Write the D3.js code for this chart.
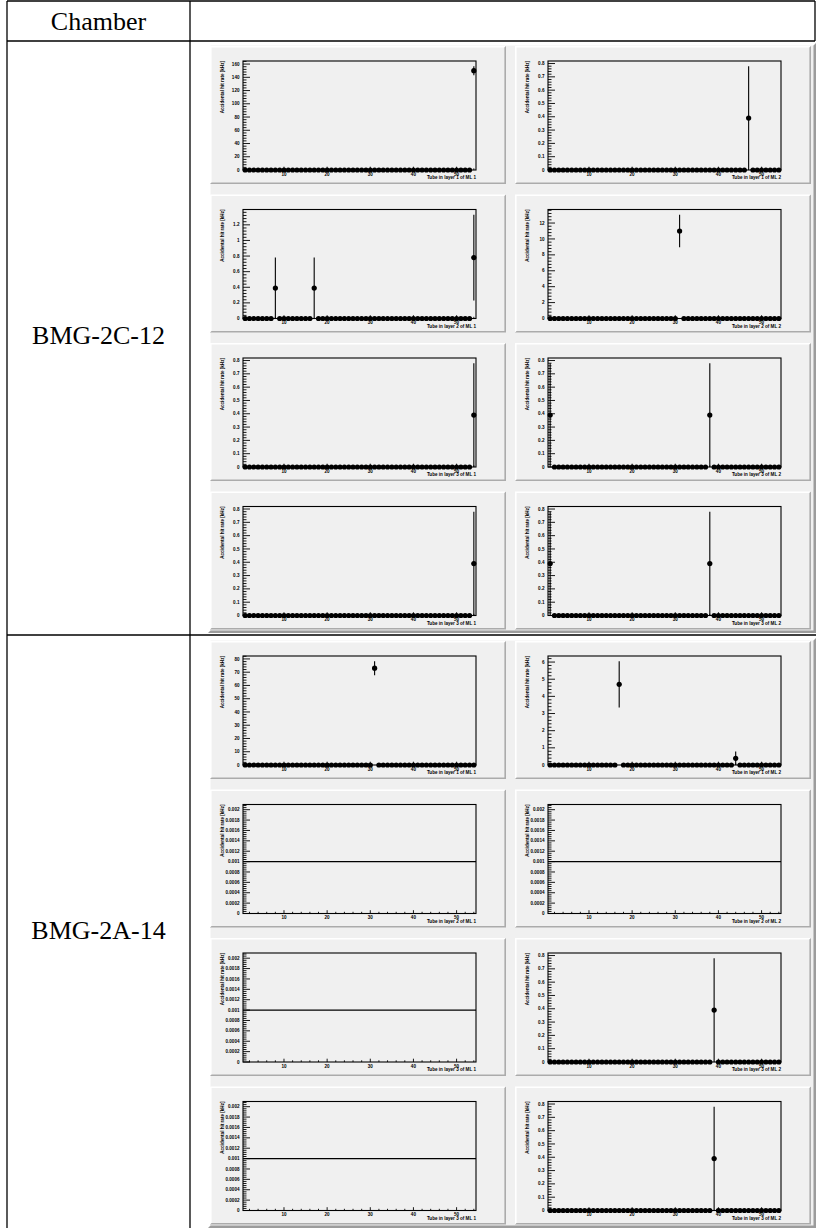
<!DOCTYPE html>
<html>
<head>
<meta charset="utf-8">
<script src="https://cdn.jsdelivr.net/npm/d3@7"></script>
<style>
  body { margin: 0; background: #fff; }
  svg text { font-family: "Liberation Sans", Arial, sans-serif; }
</style>
</head>
<body>
<svg id="sheet" width="821" height="1228"></svg>
<script>
// Chambers listed in the table, one row each
const chambers = ["BMG-2C-12", "BMG-2A-14"];
// Tube numbers along every layer
const tubes = d3.range(1, 55);
// Layer shown in each pad row, multilayer shown in each pad column
const rowLayers = [1, 2, 3, 3];
const columnML = [1, 2];
const yTitle = "Accidental hit rate [kHz]";

// Non-empty tubes per pad: [tube, rate kHz, error kHz]; pads in row order (ML1, ML2).
// null marks a pad whose histogram has no entries.
const hits2C12 = [
  [[54, 150, 6.8]],                                   [[47, 0.39, 0.39]],
  [[8, 0.39, 0.39], [17, 0.39, 0.39], [54, 0.78, 0.55]], [[31, 11, 2.05]],
  [[54, 0.39, 0.39]],                                 [[1, 0.39, 0.39], [38, 0.39, 0.39]],
  [[54, 0.39, 0.39]],                                 [[1, 0.39, 0.39], [38, 0.39, 0.39]]
];
const hits2A14 = [
  [[31, 73, 5.3]],    [[17, 4.7, 1.35], [44, 0.39, 0.39]],
  null,               null,
  null,               [[39, 0.39, 0.39]],
  null,               [[39, 0.39, 0.39]]
];
const chamberHits = [hits2C12, hits2A14];
// Level drawn for pads without entries and their y range
const emptyLevel = 0.001;
const emptyTop = 0.0021;

const svg = d3.select("#sheet");
svg.append("rect").attr("width", 821).attr("height", 1228).attr("fill", "#fff");

// ---- table grid ----
const T = { left: 7, mid: 190, right: 815, top: 1, head: 41, split: 635, bottom: 1228 };
const grid = svg.append("g").attr("stroke", "#000").attr("stroke-width", 1.3);
grid.append("line").attr("x1", T.left).attr("x2", T.right).attr("y1", T.top).attr("y2", T.top);
grid.append("line").attr("x1", T.left).attr("x2", T.left).attr("y1", T.top).attr("y2", T.bottom);
grid.append("line").attr("x1", T.mid).attr("x2", T.mid).attr("y1", T.top).attr("y2", T.bottom);
grid.append("line").attr("x1", T.right).attr("x2", T.right).attr("y1", T.top).attr("y2", T.head);
grid.append("line").attr("x1", T.left).attr("x2", T.right).attr("y1", T.head).attr("y2", T.head);

const serif = '"Liberation Serif", "Times New Roman", serif';
const cellFont = 26;
svg.append("text").attr("x", (T.left + T.mid) / 2).attr("y", 30)
  .attr("text-anchor", "middle").style("font-family", serif).attr("font-size", cellFont)
  .text("Chamber");

// ---- raised ROOT-style box ----
function bevel(g, x, y, w, h, fill, light, dark, b) {
  g.append("rect").attr("x", x).attr("y", y).attr("width", w).attr("height", h).attr("fill", fill);
  g.append("polygon").attr("fill", light)
    .attr("points", [[x, y], [x + w, y], [x + w - b, y + b], [x + b, y + b], [x + b, y + h - b], [x, y + h]].join(" "));
  g.append("polygon").attr("fill", dark)
    .attr("points", [[x + w, y], [x + w, y + h], [x, y + h], [x + b, y + h - b], [x + w - b, y + h - b], [x + w - b, y + b]].join(" "));
}

const fmt = v => String(+v.toFixed(6));

function drawPad(g, px, py, hits, xTitle) {
  const PW = 296, PH = 138;
  bevel(g, px, py, PW, PH, "#f0f0f0", "#ffffff", "#ababab", 1.6);
  const fx0 = px + 33, fx1 = px + 266, fy0 = py + 15, fy1 = py + 124;

  const empty = hits === null;
  const top = empty ? emptyTop : d3.max(hits, h => h[1] + h[2]) * 1.05;
  const x = d3.scaleLinear().domain([0.5, 54.5]).range([fx0, fx1]);
  const y = d3.scaleLinear().domain([0, top]).range([fy1, fy0]);

  const major = d3.ticks(0, top, 8);
  const step = major[1] - major[0];
  const minor = d3.range(0, Math.floor(top / (step / 5) + 1e-6) + 1).map(i => i * step / 5);

  const ax = g.append("g").attr("stroke", "#000").attr("stroke-width", 0.9);
  // y ticks (inside the frame)
  ax.selectAll(".ym").data(minor).join("line")
    .attr("x1", fx0).attr("x2", d => fx0 + (major.some(m => Math.abs(m - d) < step * 1e-3) ? 7 : 3.5))
    .attr("y1", d => y(d)).attr("y2", d => y(d));
  // x ticks
  const xMinor = d3.range(2, 55, 2);
  ax.selectAll(".xm").data(xMinor).join("line")
    .attr("x1", d => x(d)).attr("x2", d => x(d))
    .attr("y1", fy1).attr("y2", d => fy1 - (d % 10 === 0 ? 3.3 : 1.7));

  const lab = g.append("g").attr("font-size", 4.6).attr("font-weight", "bold").attr("fill", "#000");
  lab.selectAll(".yl").data(major).join("text")
    .attr("x", fx0 - 3.5).attr("y", d => y(d)).attr("dy", "0.35em")
    .attr("text-anchor", "end").text(fmt);
  lab.selectAll(".xl").data([10, 20, 30, 40, 50]).join("text")
    .attr("x", d => x(d)).attr("y", fy1 + 5.6)
    .attr("text-anchor", "middle").text(d => d);
  lab.append("text").attr("x", fx1).attr("y", fy1 + 9.2).attr("text-anchor", "end").text(xTitle);
  lab.append("text").attr("text-anchor", "end")
    .attr("transform", `translate(${px + 14.2},${fy0}) rotate(-90)`).text(yTitle);

  const marks = g.append("g");
  if (empty) {
    marks.append("line").attr("x1", fx0).attr("x2", fx1)
      .attr("y1", y(emptyLevel)).attr("y2", y(emptyLevel))
      .attr("stroke", "#000").attr("stroke-width", 1.1);
  } else {
    const byTube = new Map(hits.map(h => [h[0], h]));
    const series = tubes.map(t => {
      const h = byTube.get(t);
      return { t, v: h ? h[1] : 0, e: h ? h[2] : 0 };
    });
    marks.selectAll(".xe").data(series).join("line")
      .attr("x1", d => x(d.t - 0.5)).attr("x2", d => x(d.t + 0.5))
      .attr("y1", d => y(d.v)).attr("y2", d => y(d.v))
      .attr("stroke", "#000").attr("stroke-width", 1.2);
    marks.selectAll(".ye").data(series.filter(d => d.e > 0)).join("line")
      .attr("x1", d => x(d.t)).attr("x2", d => x(d.t))
      .attr("y1", d => y(Math.max(0, d.v - d.e))).attr("y2", d => y(Math.min(top, d.v + d.e)))
      .attr("stroke", "#000").attr("stroke-width", 1.1);
    marks.selectAll("circle").data(series).join("circle")
      .attr("cx", d => x(d.t)).attr("cy", d => y(d.v)).attr("r", 2.6).attr("fill", "#000");
  }

  // frame on top
  g.append("rect").attr("x", fx0).attr("y", fy0).attr("width", fx1 - fx0).attr("height", fy1 - fy0)
    .attr("fill", "none").attr("stroke", "#000").attr("stroke-width", 1.1);
}

// ---- one canvas per chamber ----
const canvasX = 208, canvasW = 608, canvasH = 590;
const canvasY = [43, 638];
const rowStep = 148.5;

chambers.forEach((name, ci) => {
  const cy = canvasY[ci];
  svg.append("text").attr("x", (T.left + T.mid) / 2).attr("y", cy + canvasH / 2 + 6)
    .attr("text-anchor", "middle").style("font-family", serif).attr("font-size", cellFont)
    .text(name);
  const g = svg.append("g");
  bevel(g, canvasX, cy, canvasW, canvasH, "#f0f0f0", "#ffffff", "#9c9c9c", 2.5);
  rowLayers.forEach((layer, r) => {
    columnML.forEach((ml, c) => {
      const px = canvasX + 2 + c * 305;
      const py = cy + 3 + r * rowStep;
      drawPad(g.append("g"), px, py, chamberHits[ci][r * 2 + c], `Tube in layer ${layer} of ML ${ml}`);
    });
  });
});

// row divider between the two chambers
svg.append("line").attr("x1", T.left).attr("x2", 816).attr("y1", T.split).attr("y2", T.split)
  .attr("stroke", "#000").attr("stroke-width", 1.3);
</script>
</body>
</html>
